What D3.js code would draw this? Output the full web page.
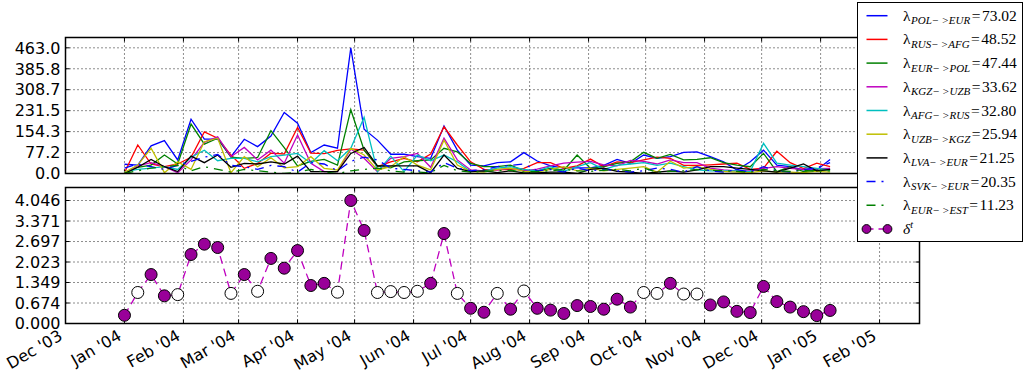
<!DOCTYPE html>
<html><head><meta charset="utf-8">
<script src="https://cdn.jsdelivr.net/npm/d3@7"></script>
<style>body{margin:0;background:#fff}svg{display:block}</style>
</head><body>
<svg id="c" width="1026" height="374"></svg>
<script>
// ---------------- data ----------------
const weeks = ["2004-01-01","2004-01-08","2004-01-15","2004-01-22","2004-01-29","2004-02-05","2004-02-12","2004-02-19","2004-02-26",
"2004-03-04","2004-03-11","2004-03-18","2004-03-25","2004-04-01","2004-04-08","2004-04-15","2004-04-22","2004-04-29",
"2004-05-06","2004-05-13","2004-05-20","2004-05-27","2004-06-03","2004-06-10","2004-06-17","2004-06-24",
"2004-07-01","2004-07-08","2004-07-15","2004-07-22","2004-07-29","2004-08-05","2004-08-12","2004-08-19","2004-08-26",
"2004-09-02","2004-09-09","2004-09-16","2004-09-23","2004-09-30","2004-10-07","2004-10-14","2004-10-21","2004-10-28",
"2004-11-04","2004-11-11","2004-11-18","2004-11-25","2004-12-02","2004-12-09","2004-12-16","2004-12-23","2004-12-30","2005-01-06"];

const polEur = [34,31,102,121,50,200,127,127,62,126,99,138,225,185,77,105,93,463,163,123,71,71,62,56,175,86,31,28,40,43,77,46,28,20,21,21,30,52,37,68,56,62,78,80,62,43,13,43,86,31,25,13,13,52];
const rusAfg = [3,105,35,25,35,60,153,130,68,19,37,75,72,170,75,73,85,91,86,25,43,56,43,72,172,105,43,15,13,15,19,40,40,19,28,53,25,43,40,50,60,56,30,30,32,35,38,15,20,82,40,18,38,25];
const eurPol = [3,23,31,68,35,182,108,130,60,56,59,158,95,28,45,52,31,235,86,28,21,43,47,50,93,80,37,25,25,31,10,10,19,12,68,19,25,37,43,78,56,70,50,52,58,40,31,25,74,7,25,7,12,13];
const kgzUzb = [3,28,40,25,3,50,115,135,62,96,50,86,38,142,38,7,7,90,56,7,56,62,74,23,130,50,13,10,13,19,10,16,28,38,42,45,32,28,48,45,35,50,40,40,20,13,10,10,19,25,19,15,18,19];
const afgRus = [7,15,20,25,15,60,86,47,56,56,43,62,68,74,38,84,47,93,207,7,64,7,68,47,68,43,7,10,20,25,15,10,25,8,25,40,15,30,35,40,30,38,25,13,10,10,10,7,111,38,31,25,19,13];
const uzbKgz = [3,31,93,3,43,15,117,130,3,62,25,58,21,25,62,19,13,93,68,13,25,62,31,13,123,31,7,5,15,20,8,5,15,25,10,20,10,15,20,25,5,45,20,25,15,8,5,3,10,5,5,3,8,5];
const lvaEur = [0,23,52,25,7,64,40,68,23,37,35,43,35,64,7,7,7,74,96,28,28,28,28,3,68,19,7,10,3,10,2,2,5,5,0,15,20,8,5,0,5,10,5,13,25,25,20,15,10,5,20,35,10,15];
const svkEur = [20,35,25,15,30,45,60,70,30,25,15,30,25,5,40,35,10,45,60,50,20,15,10,5,40,20,10,15,25,30,35,10,15,5,20,10,15,10,5,10,20,15,5,25,10,5,15,5,25,10,5,15,20,40];
const eurEst = [0,10,20,25,30,10,25,15,5,15,10,5,0,5,15,5,0,10,15,20,10,5,5,3,30,10,5,8,10,12,5,8,10,15,10,8,12,15,10,20,5,8,10,15,12,10,8,5,15,10,8,12,8,10];

const seriesLabels = ["POL\u2212\u2009>EUR","RUS\u2212\u2009>AFG","EUR\u2212\u2009>POL","KGZ\u2212\u2009>UZB","AFG\u2212\u2009>RUS","UZB\u2212\u2009>KGZ","LVA\u2212\u2009>EUR","SVK\u2212\u2009>EUR","EUR\u2212\u2009>EST"];
const seriesMeans = ["73.02","48.52","47.44","33.62","32.80","25.94","21.25","20.35","11.23"];

const deltaValues = [0.27,1.02,1.61,0.91,0.95,2.27,2.61,2.50,0.99,1.61,1.06,2.14,1.82,2.40,1.25,1.32,1.03,4.046,3.06,1.02,1.05,1.02,1.06,1.32,2.96,0.99,0.50,0.37,0.99,0.47,1.07,0.50,0.44,0.33,0.59,0.56,0.47,0.80,0.54,1.02,0.99,1.32,0.97,0.97,0.61,0.71,0.40,0.36,1.22,0.72,0.54,0.39,0.26,0.43];
const deltaOpen = [1,4,8,10,16,19,20,21,22,25,28,30,39,40,42,43];

const topTicks = ["0.0","77.2","154.3","231.5","308.7","385.8","463.0"];
const botTicks = ["0.000","0.674","1.349","2.023","2.697","3.371","4.046"];
const monthTicks = ["2003-12-01","2004-01-01","2004-02-01","2004-03-01","2004-04-01","2004-05-01","2004-06-01","2004-07-01","2004-08-01","2004-09-01","2004-10-01","2004-11-01","2004-12-01","2005-01-01","2005-02-01"];

// ---------------- styles / layout ----------------
const seriesData = [polEur,rusAfg,eurPol,kgzUzb,afgRus,uzbKgz,lvaEur,svkEur,eurEst];
const colors = ["#0000ff","#ff0000","#008000","#bf00bf","#00bfbf","#bfbf00","#000000","#0000ff","#008000"];
const dashes = [null,null,null,null,null,null,null,"9,6,2,6","9,6,2,6"];

const svg = d3.select("#c");
const L = 65.5, R = 919.5;
const boxes = [{t:37.5,b:173.5},{t:187.5,b:323.5}];
const parse = d3.utcParse("%Y-%m-%d");
const dates = weeks.map(parse);
const months = monthTicks.map(parse);
const x = d3.scaleUtc().domain([parse("2003-12-01"), parse("2005-02-22")]).range([L, R]);
const yTop = d3.scaleLinear().domain([0, 501]).range([boxes[0].b, boxes[0].t]);
const yBot = d3.scaleLinear().domain([0, 4.474]).range([boxes[1].b, boxes[1].t]);
const scales = [yTop, yBot];
const tickSets = [topTicks, botTicks];

svg.append("rect").attr("width",1026).attr("height",374).attr("fill","#fff");

const defs = svg.append("defs");
boxes.forEach((b,i)=>{
  defs.append("clipPath").attr("id","clip"+i).append("rect")
    .attr("x",L).attr("y",b.t).attr("width",R-L).attr("height",b.b-b.t);
});

// grids, ticks, labels
boxes.forEach((b,i)=>{
  const g = svg.append("g");
  const y = scales[i];
  g.append("rect").attr("x",L).attr("y",b.t).attr("width",R-L).attr("height",b.b-b.t).attr("fill","#fff");
  g.selectAll(".vg").data(months).join("line")
    .attr("x1",d=>x(d)).attr("x2",d=>x(d)).attr("y1",b.t).attr("y2",b.b)
    .attr("stroke","#000").attr("stroke-width",0.9).attr("stroke-dasharray","1,3");
  g.selectAll(".hg").data(tickSets[i]).join("line")
    .attr("x1",L).attr("x2",R).attr("y1",d=>y(+d)).attr("y2",d=>y(+d))
    .attr("stroke","#000").attr("stroke-width",0.9).attr("stroke-dasharray","1,3");
  tickSets[i].forEach(t=>{
    const yy = y(+t);
    g.append("line").attr("x1",L).attr("x2",L+4).attr("y1",yy).attr("y2",yy).attr("stroke","#000");
    g.append("line").attr("x1",R-4).attr("x2",R).attr("y1",yy).attr("y2",yy).attr("stroke","#000");
  });
  months.forEach(m=>{
    const xx = x(m);
    g.append("line").attr("x1",xx).attr("x2",xx).attr("y1",b.b).attr("y2",b.b-4).attr("stroke","#000");
    g.append("line").attr("x1",xx).attr("x2",xx).attr("y1",b.t).attr("y2",b.t+4).attr("stroke","#000");
  });
  g.selectAll(".yl").data(tickSets[i]).join("text")
    .attr("x",L-5).attr("y",d=>y(+d)).attr("dy","0.36em")
    .attr("text-anchor","end").attr("font-family","DejaVu Sans").attr("font-size",16).attr("fill","#000")
    .text(d=>d);
});

// top series
const gTop = svg.append("g").attr("clip-path","url(#clip0)");
const lineTop = d3.line().x((d,i)=>x(dates[i])).y(d=>yTop(d));
seriesData.forEach((s,k)=>{
  gTop.append("path").attr("d",lineTop(s)).attr("fill","none")
    .attr("stroke",colors[k]).attr("stroke-width",1.3)
    .attr("stroke-dasharray",dashes[k]);
});

// bottom series
const gBot = svg.append("g").attr("clip-path","url(#clip1)");
const lineBot = d3.line().x((d,i)=>x(dates[i])).y(d=>yBot(d));
gBot.append("path").attr("d",lineBot(deltaValues)).attr("fill","none")
  .attr("stroke","#bf00bf").attr("stroke-width",1.3).attr("stroke-dasharray","8,5");
const openSet = new Set(deltaOpen);
gBot.selectAll(".pt").data(deltaValues.map((v,i)=>({v,i}))).join("circle")
  .attr("cx",d=>x(dates[d.i])).attr("cy",d=>yBot(d.v)).attr("r",6)
  .attr("fill",d=>openSet.has(d.i)?"#fff":"#990099").attr("stroke","#000").attr("stroke-width",1);

// frames
boxes.forEach(b=>{
  svg.append("rect").attr("x",L).attr("y",b.t).attr("width",R-L).attr("height",b.b-b.t)
    .attr("fill","none").attr("stroke","#000").attr("stroke-width",1.5);
});

// x labels
const fmt = d3.utcFormat("%b '%y");
svg.selectAll(".xl").data(months).join("text")
  .attr("transform",d=>`translate(${x(d)-2},${339}) rotate(-30)`)
  .attr("text-anchor","end").attr("font-family","DejaVu Sans").attr("font-size",16).attr("fill","#000")
  .text(d=>fmt(d));

// legend
const lg = svg.append("g");
lg.append("rect").attr("x",857.5).attr("y",2.5).attr("width",165).attr("height",239)
  .attr("fill","#fff").attr("stroke","#000").attr("stroke-width",1);
const rowY = k => 15.7 + 23.7*k;
seriesLabels.forEach((lab,k)=>{
  const yy = rowY(k);
  lg.append("line").attr("x1",866.5).attr("x2",887.5).attr("y1",yy).attr("y2",yy)
    .attr("stroke",colors[k]).attr("stroke-width",1.5).attr("stroke-dasharray",dashes[k]);
  const t = lg.append("text").attr("x",903).attr("y",yy+5)
    .attr("font-family","Liberation Serif").attr("font-size",15.5).attr("fill","#000");
  t.append("tspan").text("\u03bb");
  t.append("tspan").attr("font-size",11).attr("font-style","italic").attr("dy",3.5).attr("dx",0.5).text(lab);
  t.append("tspan").attr("dy",-3.5).attr("dx",1.5).text("=");
  t.append("tspan").attr("dx",1.5).text(seriesMeans[k]);
});
{
  const yy = rowY(9);
  lg.append("line").attr("x1",866.5).attr("x2",887.5).attr("y1",yy).attr("y2",yy)
    .attr("stroke","#bf00bf").attr("stroke-width",1.5).attr("stroke-dasharray","7,5");
  [866.5,887.5].forEach(cx=>lg.append("circle").attr("cx",cx).attr("cy",yy).attr("r",4.4)
    .attr("fill","#990099").attr("stroke","#000").attr("stroke-width",1));
  const t = lg.append("text").attr("x",903).attr("y",yy+5)
    .attr("font-family","Liberation Serif").attr("font-size",15.5).attr("font-style","italic").attr("fill","#000");
  t.append("tspan").text("\u03b4");
  t.append("tspan").attr("font-size",10).attr("dy",-6.5).text("t");
}
</script>
</body></html>
